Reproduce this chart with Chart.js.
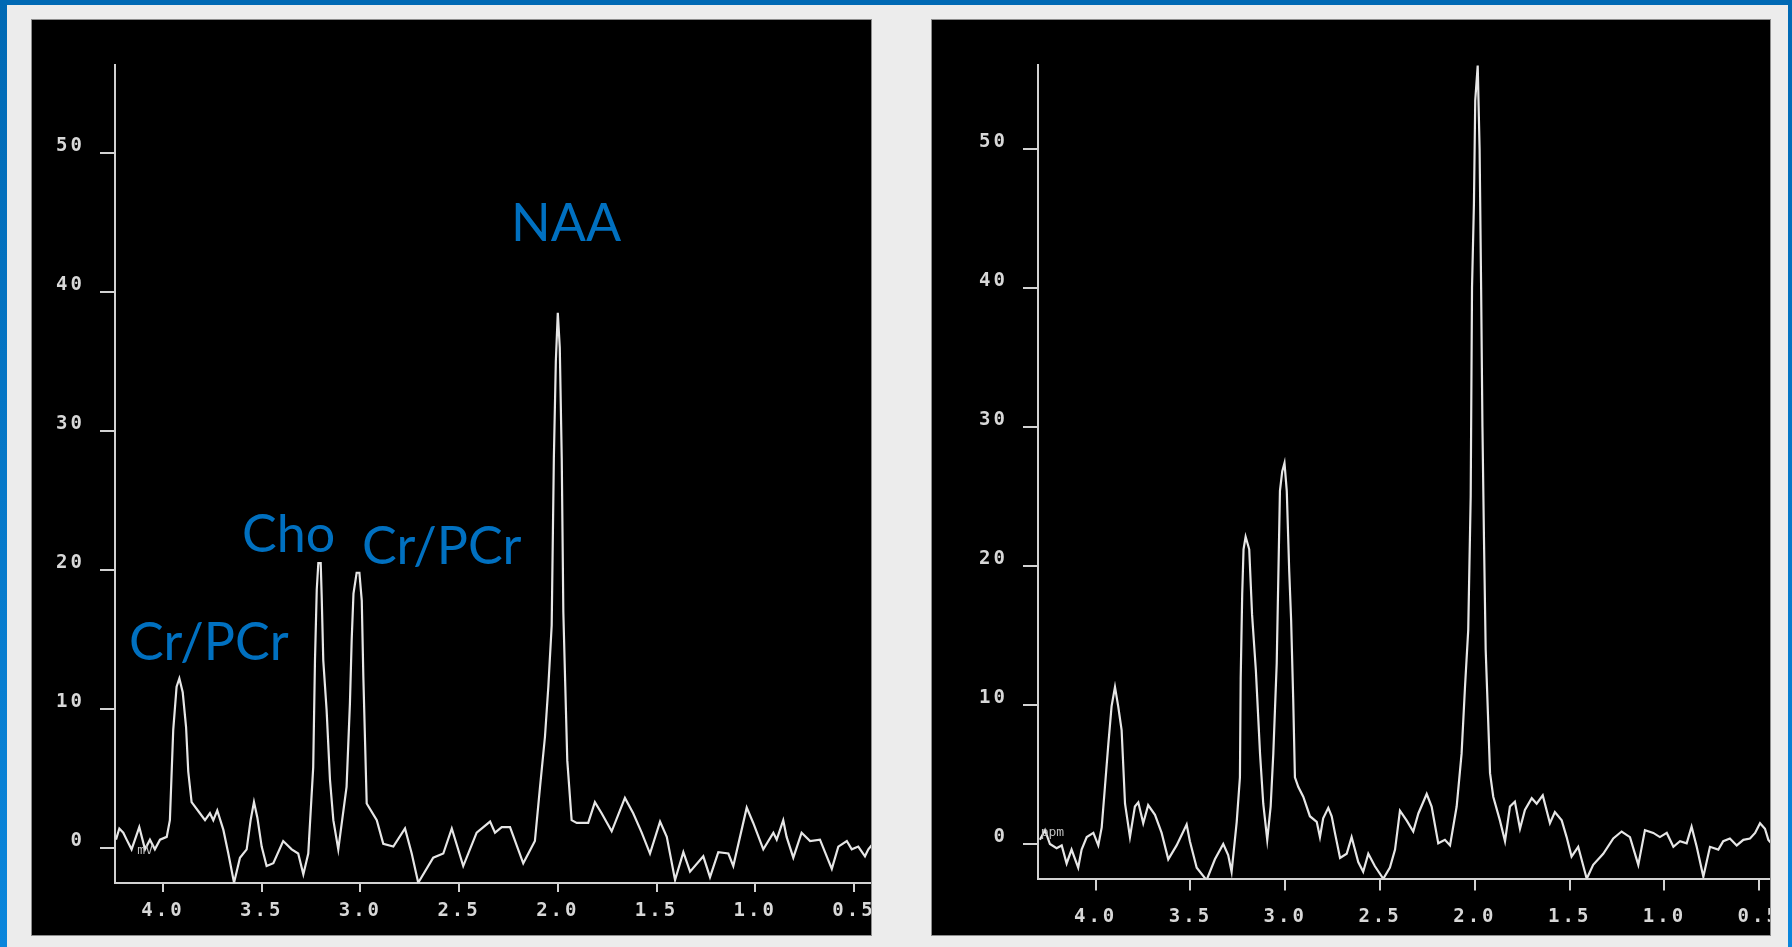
<!DOCTYPE html>
<html>
<head>
<meta charset="utf-8">
<title>1H MRS spectra</title>
<script src="https://cdn.jsdelivr.net/npm/chart.js@4.4.1/dist/chart.umd.min.js"></script>
<style>
  html, body { margin: 0; padding: 0; }
  body { width: 1792px; height: 947px; background: #ececec; position: relative; overflow: hidden; }
  .bar-top { position: absolute; left: 0; top: 0; width: 1792px; height: 5px; background: #0069b4; }
  .bar-left { position: absolute; left: 0; top: 0; width: 7px; height: 947px; background: linear-gradient(#0069b4, #0a86dc); }
  .bar-right { position: absolute; right: 0; top: 0; width: 4px; height: 947px; background: linear-gradient(#0069b4, #0a86dc); }
  .panel { position: absolute; top: 20px; height: 915px; background: #000; overflow: hidden; box-shadow: 0 0 0 1px #8c8c8c; }
  #panelL { left: 32px; width: 839px; }
  #panelR { left: 932px; width: 838px; }
  .panel canvas { position: absolute; left: 0; top: 0; }
</style>
</head>
<body>
<div class="bar-top"></div>
<div class="bar-left"></div>
<div class="bar-right"></div>
<div class="panel" id="panelL"><canvas id="specL" width="870" height="915"></canvas></div>
<div class="panel" id="panelR"><canvas id="specR" width="872" height="915"></canvas></div>

<script>
// Axis ticks
const xTickValues = [4.0, 3.5, 3.0, 2.5, 2.0, 1.5, 1.0, 0.5];
const yTickValues = [0, 10, 20, 30, 40, 50];

// Left spectrum: chemical shift (ppm) and signal
const leftPpm = [
  4.238, 4.221, 4.201, 4.184, 4.159, 4.12, 4.091, 4.066, 4.041, 4.015,
  3.981, 3.965, 3.948, 3.931, 3.917, 3.9, 3.883, 3.872, 3.855, 3.813,
  3.787, 3.762, 3.745, 3.725, 3.694, 3.669, 3.64, 3.61, 3.576, 3.556,
  3.539, 3.522, 3.5, 3.475, 3.441, 3.391, 3.348, 3.315, 3.289, 3.264,
  3.239, 3.23, 3.221, 3.213, 3.201, 3.196, 3.188, 3.171, 3.154, 3.137,
  3.112, 3.07, 3.053, 3.044, 3.035, 3.019, 3.005, 2.993, 2.985, 2.968,
  2.917, 2.884, 2.833, 2.774, 2.74, 2.707, 2.631, 2.58, 2.537, 2.479,
  2.411, 2.343, 2.318, 2.284, 2.242, 2.175, 2.116, 2.09, 2.065, 2.048,
  2.031, 2.02, 2.01, 2.0, 1.99, 1.98, 1.972, 1.962, 1.952, 1.93,
  1.904, 1.846, 1.812, 1.778, 1.727, 1.66, 1.618, 1.575, 1.533, 1.482,
  1.448, 1.406, 1.364, 1.33, 1.263, 1.229, 1.187, 1.136, 1.111, 1.043,
  1.01, 0.959, 0.908, 0.891, 0.858, 0.841, 0.807, 0.765, 0.722, 0.672,
  0.612, 0.579, 0.536, 0.511, 0.478, 0.444, 0.427, 0.41
];
const leftAmp = [
  0.6, 1.4, 1.1, 0.6, -0.1, 1.5, -0.1, 0.6, -0.1, 0.6,
  0.8, 2.0, 8.5, 11.6, 12.2, 11.2, 8.7, 5.5, 3.3, 2.5,
  2.0, 2.5, 2.0, 2.7, 1.3, -0.4, -2.5, -0.7, -0.1, 2.0,
  3.3, 2.2, 0.1, -1.3, -1.1, 0.5, -0.1, -0.4, -1.9, -0.4,
  5.8, 13.5, 18.6, 20.5, 20.5, 18.1, 13.5, 9.9, 4.9, 2.0,
  -0.1, 4.4, 10.4, 15.0, 18.3, 19.8, 19.8, 17.8, 12.3, 3.2,
  2.0, 0.3, 0.1, 1.4, -0.4, -2.5, -0.7, -0.4, 1.4, -1.3,
  1.1, 1.9, 1.1, 1.5, 1.5, -1.1, 0.5, 4.4, 8.0, 11.6,
  16.0, 28.0, 35.0, 38.5, 36.0, 28.0, 17.0, 11.6, 6.3, 2.0,
  1.8, 1.8, 3.3, 2.5, 1.2, 3.6, 2.5, 1.1, -0.4, 1.9,
  0.8, -2.3, -0.3, -1.7, -0.6, -2.1, -0.3, -0.4, -1.3, 2.9,
  1.8, -0.1, 1.1, 0.6, 2.0, 0.8, -0.7, 1.1, 0.5, 0.6,
  -1.5, 0.1, 0.5, -0.1, 0.1, -0.6, -0.1, 0.2
];

// Right spectrum
const rightPpm = [
  4.294, 4.267, 4.241, 4.206, 4.179, 4.153, 4.127, 4.092, 4.074, 4.047,
  4.012, 3.986, 3.968, 3.951, 3.933, 3.916, 3.898, 3.881, 3.863, 3.845,
  3.819, 3.793, 3.775, 3.749, 3.723, 3.687, 3.652, 3.617, 3.573, 3.52,
  3.503, 3.467, 3.415, 3.371, 3.327, 3.301, 3.283, 3.256, 3.239, 3.235,
  3.227, 3.22, 3.209, 3.19, 3.175, 3.155, 3.133, 3.116, 3.095, 3.077,
  3.063, 3.045, 3.028, 3.016, 3.004, 2.992, 2.979, 2.969, 2.958, 2.949,
  2.931, 2.905, 2.87, 2.834, 2.817, 2.8, 2.773, 2.755, 2.738, 2.711,
  2.676, 2.65, 2.615, 2.589, 2.562, 2.527, 2.483, 2.448, 2.421, 2.395,
  2.36, 2.325, 2.298, 2.254, 2.228, 2.193, 2.158, 2.131, 2.096, 2.07,
  2.052, 2.035, 2.022, 2.015, 2.005, 1.998, 1.985, 1.975, 1.967, 1.96,
  1.952, 1.943, 1.92, 1.903, 1.868, 1.841, 1.815, 1.789, 1.762, 1.736,
  1.7, 1.674, 1.642, 1.604, 1.578, 1.542, 1.516, 1.49, 1.455, 1.41,
  1.376, 1.323, 1.27, 1.226, 1.182, 1.138, 1.103, 1.059, 1.024, 0.988,
  0.953, 0.918, 0.883, 0.857, 0.83, 0.795, 0.76, 0.716, 0.69, 0.655,
  0.619, 0.584, 0.549, 0.522, 0.496, 0.47, 0.452, 0.44
];
const rightAmp = [
  0.3, 1.0, 0.0, -0.3, -0.1, -1.4, -0.4, -1.7, -0.4, 0.5,
  0.8, -0.1, 1.2, 4.1, 7.2, 9.9, 11.3, 9.9, 8.2, 2.9,
  0.5, 2.7, 3.0, 1.5, 2.8, 2.1, 0.8, -1.1, -0.1, 1.4,
  0.2, -1.7, -2.6, -1.1, 0.0, -0.8, -2.0, 1.6, 4.8, 11.9,
  18.0, 21.2, 22.1, 21.2, 16.5, 12.5, 6.5, 2.9, 0.3, 2.7,
  6.5, 13.0, 25.4, 26.8, 27.4, 25.4, 19.6, 16.1, 10.4, 4.8,
  4.1, 3.4, 2.0, 1.6, 0.5, 1.85, 2.6, 2.0, 0.8, -1.0,
  -0.7, 0.5, -1.3, -2.0, -0.7, -1.6, -2.5, -1.7, -0.4, 2.4,
  1.7, 0.9, 2.2, 3.6, 2.7, 0.05, 0.3, -0.1, 2.7, 6.5,
  11.3, 15.4, 25.0, 40.0, 46.0, 53.5, 56.0, 50.0, 40.0, 30.0,
  22.0, 14.0, 5.1, 3.4, 1.7, 0.2, 2.7, 3.05, 1.1, 2.45,
  3.3, 2.9, 3.5, 1.5, 2.3, 1.7, 0.5, -0.9, -0.2, -2.5,
  -1.5, -0.7, 0.4, 0.9, 0.5, -1.5, 1.0, 0.8, 0.5, 0.8,
  -0.2, 0.2, 0.05, 1.25, -0.2, -2.35, -0.2, -0.4, 0.2, 0.4,
  -0.1, 0.3, 0.4, 0.8, 1.5, 1.1, 0.3, 0.1
];

// Metabolite labels on the left spectrum (anchor = left edge / baseline, in data units)
const peakNames = ['Cr/PCr', 'Cho', 'Cr/PCr', 'NAA'];
const peakLabelPpm = [4.172, 3.6, 2.992, 2.237];
const peakLabelAmp = [13.5, 21.3, 20.4, 43.7];

const AXIS_GRAY = '#d2d2d2';
const TRACE_GRAY = '#e6e6e6';
const TICK_FONT = { family: 'DejaVu Sans Mono', size: 19, weight: 'bold' };

// Chart.js has no letter-spacing option; the old scanner font is wide, so set it on the context
const tickSpacing = {
  id: 'tickSpacing',
  beforeDraw(chart) { chart.ctx.letterSpacing = '3px'; }
};

const textMarks = {
  id: 'textMarks',
  afterDraw(chart, args, opts) {
    const { ctx, scales } = chart;
    ctx.save();
    ctx.letterSpacing = '0px';
    ctx.textAlign = 'left';
    ctx.textBaseline = 'alphabetic';
    (opts.items || []).forEach(it => {
      ctx.font = it.font;
      ctx.fillStyle = it.color;
      ctx.fillText(it.text, scales.x.getPixelForValue(it.ppm), scales.y.getPixelForValue(it.amp));
    });
    ctx.restore();
  }
};

function makeSpectrum(id, ppm, amp, g, items) {
  const points = ppm.map((p, i) => ({ x: p, y: amp[i] }));
  return new Chart(document.getElementById(id), {
    type: 'line',
    data: {
      datasets: [{
        data: points,
        borderColor: TRACE_GRAY,
        borderWidth: 2.2,
        pointRadius: 0,
        tension: 0,
        fill: false,
      }]
    },
    options: {
      responsive: false,
      animation: false,
      events: [],
      layout: { padding: { top: g.padTop, right: g.padRight, left: 0, bottom: 0 } },
      plugins: {
        legend: { display: false },
        tooltip: { enabled: false },
        textMarks: { items },
      },
      scales: {
        x: {
          type: 'linear',
          reverse: true,
          min: g.xMin,
          max: g.xMax,
          afterBuildTicks: s => { s.ticks = xTickValues.map(v => ({ value: v })); },
          afterFit: s => { s.height = g.xAxisH; s.paddingLeft = 0; s.paddingRight = 0; },
          ticks: {
            color: '#d8d8d8',
            font: TICK_FONT,
            padding: g.xPad,
            maxRotation: 0,
            autoSkip: false,
            callback: v => Number(v).toFixed(1),
          },
          grid: { display: true, drawOnChartArea: false, drawTicks: true, tickLength: g.xTick, color: AXIS_GRAY, lineWidth: 2 },
          border: { display: true, color: AXIS_GRAY, width: 2 },
        },
        y: {
          type: 'linear',
          min: g.yMin,
          max: g.yMax,
          afterBuildTicks: s => { s.ticks = yTickValues.map(v => ({ value: v })); },
          afterFit: s => { s.width = g.yAxisW; },
          ticks: {
            color: '#d8d8d8',
            font: TICK_FONT,
            padding: 15,
            labelOffset: -7,
            autoSkip: false,
            callback: v => String(v),
          },
          grid: { display: true, drawOnChartArea: false, drawTicks: true, tickLength: 15, color: AXIS_GRAY, lineWidth: 2 },
          border: { display: true, color: AXIS_GRAY, width: 2 },
        }
      }
    },
    plugins: [tickSpacing, textMarks]
  });
}

const BLUE = '#0070c0';
const LABEL_FONT = '52px Lato, "Noto Sans", sans-serif';
const SMALL_FONT = '13px "DejaVu Sans Mono", monospace';

const leftItems = peakNames.map((t, i) => ({
  text: t, ppm: peakLabelPpm[i], amp: peakLabelAmp[i], font: LABEL_FONT, color: BLUE
}));
leftItems.push({ text: 'mV', ppm: 4.13, amp: -0.4, font: SMALL_FONT, color: '#bdbdbd' });

makeSpectrum('specL', leftPpm, leftAmp, {
  xMin: 0.3, xMax: 4.243, yMin: -2.52, yMax: 56.33,
  yAxisW: 83, xAxisH: 52, padTop: 45, padRight: 8.6,
  xTick: 9, xPad: 8,
}, leftItems);

makeSpectrum('specR', rightPpm, rightAmp, {
  xMin: 0.3, xMax: 4.304, yMin: -2.48, yMax: 56.04,
  yAxisW: 106, xAxisH: 56.5, padTop: 45, padRight: 6.8,
  xTick: 12, xPad: 15,
}, [{ text: 'ppm', ppm: 4.29, amp: 0.6, font: SMALL_FONT, color: '#bdbdbd' }]);
</script>
</body>
</html>
